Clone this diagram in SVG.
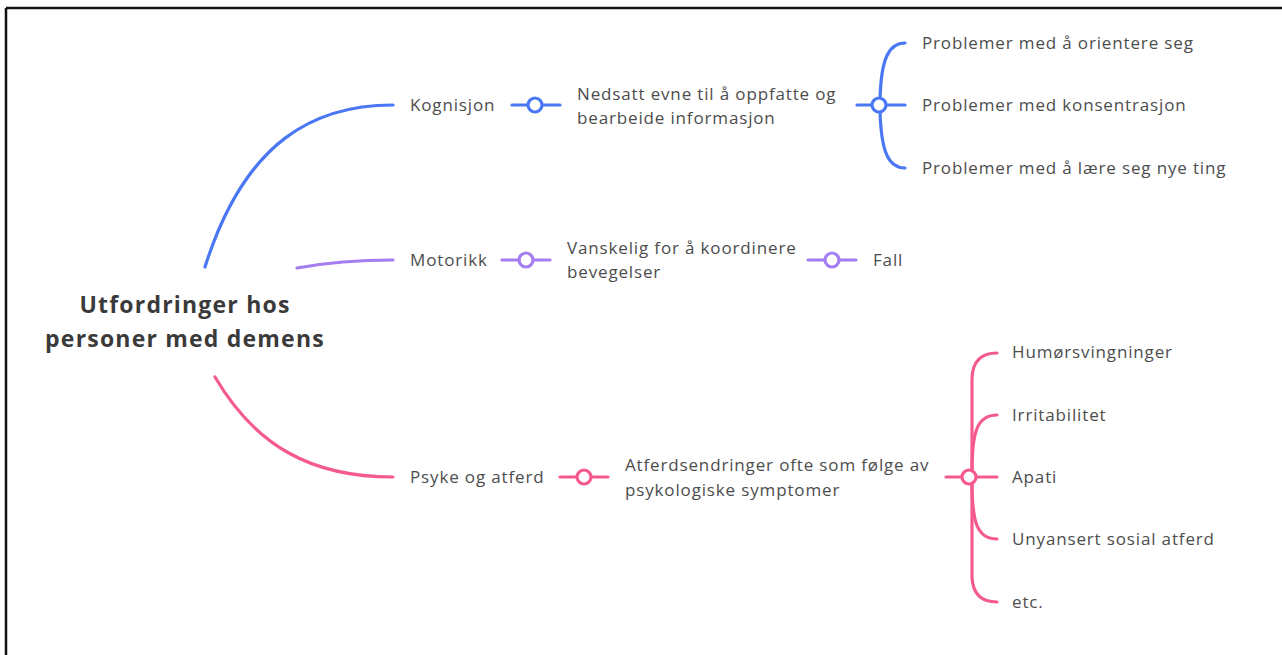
<svg xmlns="http://www.w3.org/2000/svg" width="1282" height="655" viewBox="0 0 1282 655">
<style>
  .t { font-family: "Open Sans", "Noto Sans", "Liberation Sans", sans-serif; font-size: 17px; letter-spacing: 0.85px; fill: #4d4d4d; }
  .c { font-family: "Open Sans", "Noto Sans", "Liberation Sans", sans-serif; font-size: 23px; font-weight: bold; letter-spacing: 1.2px; fill: #3a3a3a; text-anchor: middle; }
  .ln { fill: none; stroke-width: 3.2; stroke-linecap: round; }
  .b { stroke: #4a78f5; }
  .p { stroke: #a47ef0; }
  .r { stroke: #f45b8c; }
  .dot { fill: #fff; stroke-width: 3.2; }
</style>
<rect x="0" y="0" width="1282" height="655" fill="#fff"/>
<path d="M6,8 H1282 M6,8 V655" fill="none" stroke="#111" stroke-width="2.5"/>

<g id="connectors">
  <path class="ln b" d="M205,267 C 245,140 315,105 393,105"/>
  <path class="ln p" d="M297,268 C 330,262 355,260 393,260"/>
  <path class="ln r" d="M215,377 C 255,445 310,477 393,477"/>
  <path class="ln b" d="M512,105 H560"/>
  <path class="ln b" d="M857,105 H905"/>
  <path class="ln b" d="M880,100 C 881,58 889,43 905,43"/>
  <path class="ln b" d="M880,110 C 881,153 889,168 905,168"/>
  <path class="ln p" d="M502,260 H550"/>
  <path class="ln p" d="M808,260 H856"/>
  <path class="ln r" d="M560,477 H608"/>
  <path class="ln r" d="M946,477 H997"/>
  <path class="ln r" d="M972,472 L972,378 Q973,353 997,353"/>
  <path class="ln r" d="M972,472 C 972,432 977,415 997,415"/>
  <path class="ln r" d="M972,482 C 972,522 977,539 997,539"/>
  <path class="ln r" d="M972,482 L972,577 Q973,602 997,602"/>
  <circle class="dot b" cx="535" cy="105" r="7"/>
  <circle class="dot b" cx="879" cy="105" r="7"/>
  <circle class="dot p" cx="526" cy="260" r="7"/>
  <circle class="dot p" cx="832" cy="260" r="7"/>
  <circle class="dot r" cx="584" cy="477" r="7"/>
  <circle class="dot r" cx="969" cy="477" r="7"/>
</g>

<g id="root"><text class="c" x="185" y="313">Utfordringer hos</text><text class="c" x="185" y="347">personer med demens</text></g>

<g id="kognisjon"><text class="t" x="410" y="111">Kognisjon</text></g>
<g id="nedsatt"><text class="t" x="577" y="100">Nedsatt evne til å oppfatte og</text><text class="t" x="577" y="124">bearbeide informasjon</text></g>
<g id="orientere"><text class="t" x="922" y="49">Problemer med å orientere seg</text></g>
<g id="konsentrasjon"><text class="t" x="922" y="111">Problemer med konsentrasjon</text></g>
<g id="laere"><text class="t" x="922" y="174">Problemer med å lære seg nye ting</text></g>

<g id="motorikk"><text class="t" x="410" y="266">Motorikk</text></g>
<g id="vanskelig"><text class="t" x="567" y="254">Vanskelig for å koordinere</text><text class="t" x="567" y="278">bevegelser</text></g>
<g id="fall"><text class="t" x="873" y="266">Fall</text></g>

<g id="psyke"><text class="t" x="410" y="483">Psyke og atferd</text></g>
<g id="atferdsendringer"><text class="t" x="625" y="471">Atferdsendringer ofte som følge av</text><text class="t" x="625" y="496">psykologiske symptomer</text></g>
<g id="humor"><text class="t" x="1012" y="358">Humørsvingninger</text></g>
<g id="irritabilitet"><text class="t" x="1012" y="421">Irritabilitet</text></g>
<g id="apati"><text class="t" x="1012" y="483">Apati</text></g>
<g id="unyansert"><text class="t" x="1012" y="545">Unyansert sosial atferd</text></g>
<g id="etc"><text class="t" x="1012" y="608">etc.</text></g>
</svg>
